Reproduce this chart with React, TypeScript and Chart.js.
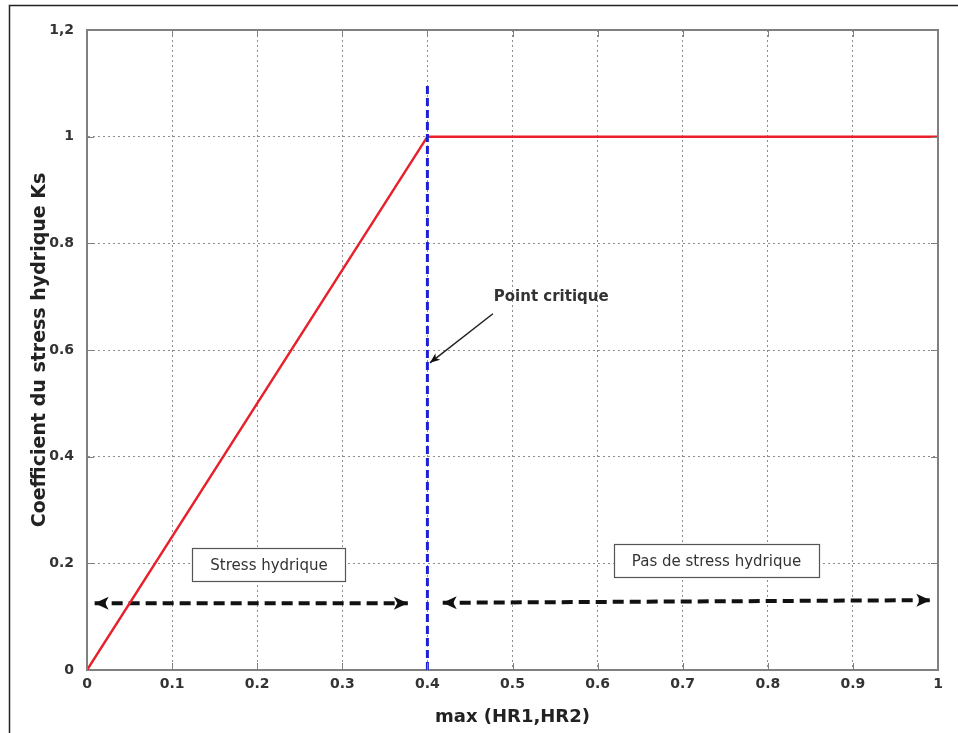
import React, { useEffect, useRef } from "react";
import { Chart, registerables } from "chart.js";

Chart.register(...registerables);

// ---- data ----
const xTickLabels = ["0", "0.1", "0.2", "0.3", "0.4", "0.5", "0.6", "0.7", "0.8", "0.9", "1"];
const yTickLabels = ["0", "0.2", "0.4", "0.6", "0.8", "1", "1,2"];

const ksX = [0, 0.4, 1];
const ksY = [0, 1, 1];

const criticalX = [0.4, 0.4];
const criticalY = [0, 1.1];

const stressArrowX = [0.009, 0.377];
const stressArrowY = [0.125, 0.125];

const noStressArrowX = [0.418, 0.991];
const noStressArrowY = [0.126, 0.131];

const calloutX = [0.477, 0.403];
const calloutY = [0.668, 0.576];

const boxLabels = ["Stress hydrique", "Pas de stress hydrique"];
const boxCenterX = [0.2139, 0.7397];
const boxCenterY = [0.197, 0.2045];

const calloutLabel = "Point critique";
const calloutLabelX = 0.478;
const calloutLabelY = 0.7;

const xTitle = "max (HR1,HR2)";
const yTitle = "Coefficient du stress hydrique Ks";

const pts = (xs: number[], ys: number[]) => xs.map((x, i) => ({ x, y: ys[i] }));

function arrowHead(ctx: CanvasRenderingContext2D, fx: number, fy: number, tx: number, ty: number, len: number, half: number) {
  const a = Math.atan2(ty - fy, tx - fx);
  const bx = tx - len * Math.cos(a);
  const by = ty - len * Math.sin(a);
  const nx = -Math.sin(a);
  const ny = Math.cos(a);
  ctx.beginPath();
  ctx.moveTo(tx, ty);
  ctx.lineTo(bx + nx * half, by + ny * half);
  ctx.lineTo(tx - len * 0.75 * Math.cos(a), ty - len * 0.75 * Math.sin(a));
  ctx.lineTo(bx - nx * half, by - ny * half);
  ctx.closePath();
  ctx.fill();
}

const annotPlugin = {
  id: "annot",
  beforeDraw(chart: any) {
    const ctx = chart.ctx;
    ctx.save();
    ctx.fillStyle = "#ffffff";
    ctx.fillRect(0, 0, chart.width, chart.height);
    ctx.strokeStyle = "#222";
    ctx.lineWidth = 1.5;
    ctx.beginPath();
    ctx.moveTo(9.5, chart.height);
    ctx.lineTo(9.5, 5.5);
    ctx.lineTo(chart.width, 5.5);
    ctx.stroke();
    ctx.restore();
  },
  afterDraw(chart: any) {
    const ctx = chart.ctx;
    const xs = chart.scales.x;
    const ys = chart.scales.y;
    const area = chart.chartArea;
    ctx.save();
    // box top/right
    ctx.strokeStyle = "#808080";
    ctx.lineWidth = 2;
    ctx.beginPath();
    ctx.moveTo(area.left, area.top);
    ctx.lineTo(area.right, area.top);
    ctx.lineTo(area.right, area.bottom);
    ctx.stroke();
    // inward ticks
    ctx.lineWidth = 1;
    ctx.beginPath();
    xs.ticks.forEach((t: any) => {
      const p = Math.round(xs.getPixelForValue(t.value)) + 0.5;
      ctx.moveTo(p, area.bottom);
      ctx.lineTo(p, area.bottom - 7);
      ctx.moveTo(p, area.top);
      ctx.lineTo(p, area.top + 7);
    });
    ys.ticks.forEach((t: any) => {
      const p = Math.round(ys.getPixelForValue(t.value)) + 0.5;
      ctx.moveTo(area.left, p);
      ctx.lineTo(area.left + 7, p);
      ctx.moveTo(area.right, p);
      ctx.lineTo(area.right - 7, p);
    });
    ctx.stroke();

    // arrowheads
    ctx.fillStyle = "#111";
    const px = (v: number) => xs.getPixelForValue(v);
    const py = (v: number) => ys.getPixelForValue(v);
    [
      [stressArrowX, stressArrowY],
      [noStressArrowX, noStressArrowY],
    ].forEach(([ax, ay]) => {
      arrowHead(ctx, px(ax[0]), py(ay[0]), px(ax[1]), py(ay[1]), 14, 6.5);
      arrowHead(ctx, px(ax[1]), py(ay[1]), px(ax[0]), py(ay[0]), 14, 6.5);
    });
    arrowHead(ctx, px(calloutX[0]), py(calloutY[0]), px(calloutX[1]), py(calloutY[1]), 10, 4);

    // text boxes
    ctx.font = "15px 'DejaVu Sans'";
    ctx.textAlign = "center";
    ctx.textBaseline = "middle";
    boxLabels.forEach((lab, i) => {
      const cx = px(boxCenterX[i]);
      const cy = py(boxCenterY[i]);
      const w = ctx.measureText(lab).width + 36;
      const h = 33;
      ctx.fillStyle = "#fff";
      ctx.fillRect(cx - w / 2, cy - h / 2, w, h);
      ctx.strokeStyle = "#555";
      ctx.lineWidth = 1.2;
      ctx.strokeRect(Math.round(cx - w / 2) + 0.5, Math.round(cy - h / 2) + 0.5, Math.round(w), h);
      ctx.fillStyle = "#333";
      ctx.fillText(lab, cx, cy + 1);
    });

    // callout label
    ctx.font = "bold 15px 'DejaVu Sans'";
    ctx.textAlign = "left";
    ctx.fillStyle = "#333";
    ctx.fillText(calloutLabel, px(calloutLabelX), py(calloutLabelY));
    ctx.restore();
  },
};

export default function App() {
  const ref = useRef<HTMLCanvasElement | null>(null);
  useEffect(() => {
    if (!ref.current) return;
    const chart = new Chart(ref.current, {
      type: "scatter",
      data: {
        datasets: [
          {
            data: pts(criticalX, criticalY),
            showLine: true,
            borderColor: "#1f1fd6",
            borderWidth: 3,
            borderDash: [8, 4],
            pointRadius: 0,
          },
          {
            data: pts(ksX, ksY),
            showLine: true,
            borderColor: "#e8202a",
            borderWidth: 2.5,
            pointRadius: 0,
          },
          {
            data: pts(stressArrowX, stressArrowY),
            showLine: true,
            borderColor: "#111",
            borderWidth: 4,
            borderDash: [11, 6],
            pointRadius: 0,
          },
          {
            data: pts(noStressArrowX, noStressArrowY),
            showLine: true,
            borderColor: "#111",
            borderWidth: 4,
            borderDash: [11, 6],
            pointRadius: 0,
          },
          {
            data: pts(calloutX, calloutY),
            showLine: true,
            borderColor: "#222",
            borderWidth: 1.5,
            pointRadius: 0,
          },
        ],
      },
      options: {
        animation: false,
        responsive: false,
        layout: { padding: { left: 0, right: 20, top: 30, bottom: 0 } },
        plugins: { legend: { display: false }, tooltip: { enabled: false } },
        scales: {
          x: {
            type: "linear",
            min: 0,
            max: 1,
            afterFit: (s: any) => {
              s.height = 63;
            },
            ticks: {
              stepSize: 0.1,
              padding: 6,
              color: "#333",
              font: { family: "'DejaVu Sans'", size: 14, weight: "bold" },
              callback: (_v: any, i: number) => xTickLabels[i],
              maxRotation: 0,
            },
            grid: {
              color: "rgba(0,0,0,0.45)",
              lineWidth: 1,
              drawTicks: false,
            },
            border: { color: "#808080", width: 2, dash: [2, 3] } as any,
            title: {
              display: true,
              text: xTitle,
              color: "#222",
              font: { family: "'DejaVu Sans'", size: 18, weight: "bold" },
              padding: { top: 0, bottom: 5 },
            },
          },
          y: {
            type: "linear",
            min: 0,
            max: 1.2,
            afterFit: (s: any) => {
              s.width = 87;
            },
            ticks: {
              stepSize: 0.2,
              padding: 13,
              color: "#333",
              font: { family: "'DejaVu Sans'", size: 14, weight: "bold" },
              callback: (_v: any, i: number) => yTickLabels[i],
            },
            grid: {
              color: "rgba(0,0,0,0.45)",
              lineWidth: 1,
              drawTicks: false,
            },
            border: { color: "#808080", width: 2, dash: [2, 3] } as any,
            title: {
              display: true,
              text: yTitle,
              color: "#222",
              font: { family: "'DejaVu Sans'", size: 19, weight: "bold" },
              padding: { top: 29, bottom: 0 },
            },
          },
        },
      },
      plugins: [annotPlugin],
    });
    return () => chart.destroy();
  }, []);
  return (
    <div style={{ position: "fixed", left: 0, top: 0, width: 958, height: 733, background: "#fff" }}>
      <canvas ref={ref} width={958} height={733} style={{ display: "block" }} />
    </div>
  );
}
